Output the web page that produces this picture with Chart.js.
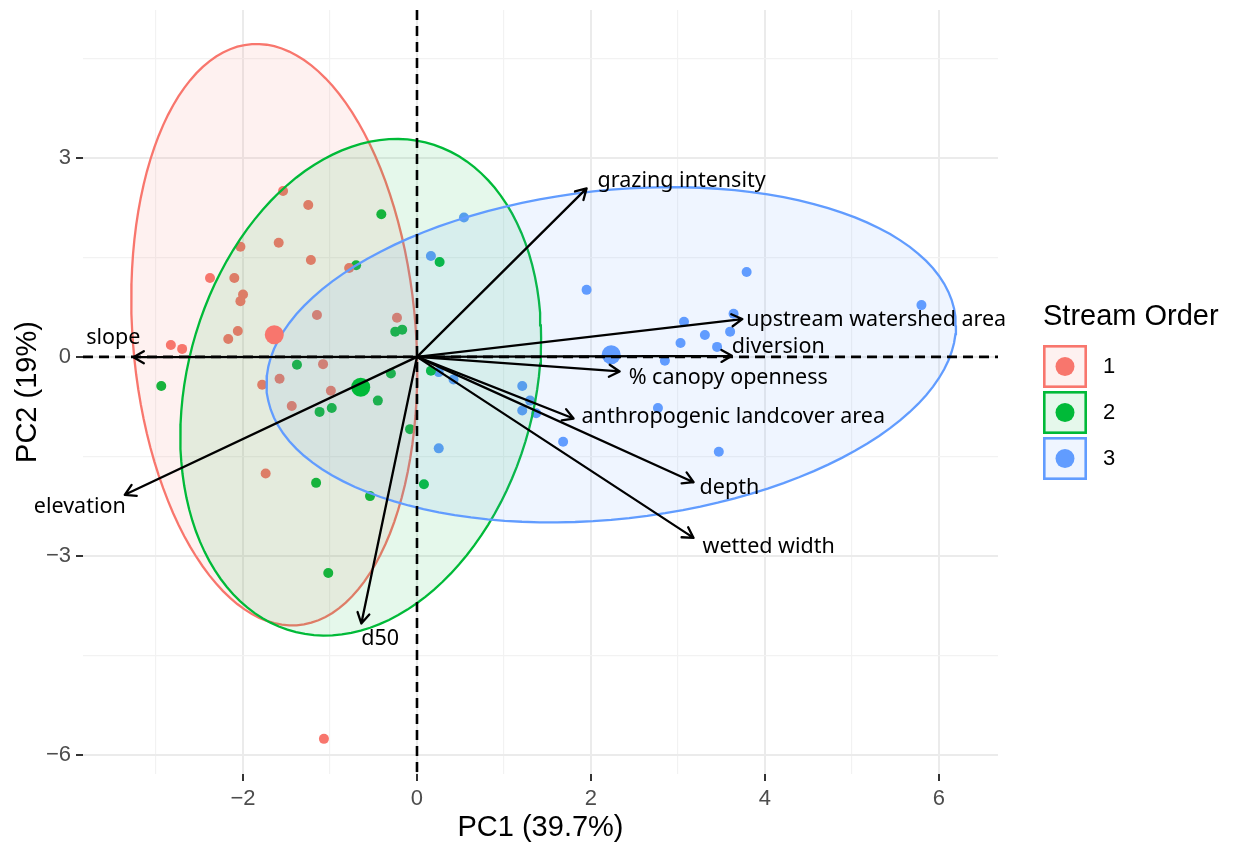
<!DOCTYPE html>
<html>
<head>
<meta charset="utf-8">
<script src="https://cdn.jsdelivr.net/npm/chart.js@4.4.1/dist/chart.umd.min.js"></script>
<style>
  html, body { margin: 0; padding: 0; background: #fff; }
</style>
</head>
<body>
<canvas id="pcaChart" width="1235" height="845"></canvas>
<script>
// stream order classes
const groups = ['1', '2', '3'];
const groupColors = ['#F8766D', '#00BA38', '#619CFF'];

// site scores [PC1, PC2] per stream order
const order1 = [
  [-1.54, 2.50], [-1.25, 2.29], [-1.59, 1.72], [-2.03, 1.66], [-1.22, 1.46],
  [-2.38, 1.19], [-2.10, 1.19], [-2.00, 0.94], [-2.03, 0.84], [-0.78, 1.34],
  [-1.15, 0.63], [-0.23, 0.59], [-2.06, 0.39], [-2.17, 0.27], [-2.83, 0.18],
  [-2.70, 0.12], [-1.08, -0.11], [-1.58, -0.33], [-1.78, -0.42], [-0.99, -0.51],
  [-1.44, -0.74], [-1.74, -1.76], [-1.07, -5.76]
];
const order2 = [
  [-0.41, 2.15], [-0.70, 1.38], [0.26, 1.43], [-0.25, 0.38], [-0.17, 0.41],
  [-1.38, -0.12], [0.16, -0.21], [-0.30, -0.25], [-2.94, -0.44], [-0.45, -0.66],
  [-1.12, -0.83], [-0.98, -0.77], [-0.08, -1.09], [-1.16, -1.90], [-0.54, -2.10],
  [0.08, -1.92], [-1.02, -3.26]
];
const order3 = [
  [0.54, 2.10], [0.16, 1.52], [1.95, 1.01], [3.79, 1.28], [5.80, 0.78],
  [3.07, 0.53], [3.64, 0.65], [3.31, 0.33], [3.60, 0.38], [3.03, 0.21],
  [3.45, 0.15], [2.85, -0.06], [0.25, -0.23], [0.42, -0.34], [1.21, -0.44],
  [1.30, -0.66], [1.21, -0.81], [1.37, -0.85], [2.77, -0.77], [1.68, -1.28],
  [0.25, -1.38], [3.47, -1.43]
];
const siteScores = [order1, order2, order3];

// variable arrows
const varNames = ['grazing intensity', 'upstream watershed area', 'diversion',
  '% canopy openness', 'anthropogenic landcover area', 'depth', 'wetted width',
  'slope', 'elevation', 'd50'];
const varPC1 = [1.95, 3.74, 3.62, 2.33, 1.80, 3.18, 3.18, -3.26, -3.36, -0.64];
const varPC2 = [2.54, 0.57, 0.015, -0.22, -0.93, -1.89, -2.73, -0.005, -2.08, -4.02];

const xTitle = 'PC1 (39.7%)';
const yTitle = 'PC2 (19%)';
const legendTitle = 'Stream Order';

// label placement relative to arrow tip (px): dx, dy, align
const labelPos = [
  [11, -8, 'left'], [4, 1, 'left'], [0, -9, 'left'], [9, 6, 'left'], [8, -2, 'left'],
  [6, 6, 'left'], [9, 9, 'left'], [7, -19, 'right'], [1, 12, 'right'], [0, 15, 'left']
];

function hexA(hex, a) {
  const n = parseInt(hex.slice(1), 16);
  return 'rgba(' + (n >> 16) + ',' + ((n >> 8) & 255) + ',' + (n & 255) + ',' + a + ')';
}

function meanOf(pts) {
  let sx = 0, sy = 0;
  pts.forEach(p => { sx += p[0]; sy += p[1]; });
  return [sx / pts.length, sy / pts.length];
}

// normal-theory 95% ellipse, like stat_ellipse(type = "norm")
function ellipseOf(pts, level) {
  const n = pts.length;
  const m = meanOf(pts);
  let sxx = 0, sxy = 0, syy = 0;
  pts.forEach(p => {
    const dx = p[0] - m[0], dy = p[1] - m[1];
    sxx += dx * dx; sxy += dx * dy; syy += dy * dy;
  });
  sxx /= n - 1; sxy /= n - 1; syy /= n - 1;
  const r11 = Math.sqrt(sxx), r12 = sxy / r11, r22 = Math.sqrt(syy - r12 * r12);
  const d = n - 1;
  const qf = (d / 2) * (Math.pow(1 - level, -2 / d) - 1);
  const rad = Math.sqrt(2 * qf);
  const out = [];
  for (let i = 0; i <= 120; i++) {
    const a = 2 * Math.PI * i / 120;
    const c = Math.cos(a), s = Math.sin(a);
    out.push({ x: m[0] + rad * c * r11, y: m[1] + rad * (c * r12 + s * r22) });
  }
  return out;
}

const datasets = [];
siteScores.forEach((pts, g) => {
  datasets.push({
    type: 'scatter',
    label: 'sites ' + groups[g],
    data: pts.map(p => ({ x: p[0], y: p[1] })),
    backgroundColor: groupColors[g],
    borderWidth: 0,
    pointRadius: 5,
    order: 40
  });
});
siteScores.forEach((pts, g) => {
  datasets.push({
    type: 'line',
    label: 'ellipse ' + groups[g],
    data: ellipseOf(pts, 0.95),
    borderColor: groupColors[g],
    backgroundColor: hexA(groupColors[g], 0.1),
    borderWidth: 2.3,
    pointRadius: 0,
    tension: 0,
    fill: 'shape',
    order: 30 - g
  });
});
siteScores.forEach((pts, g) => {
  const m = meanOf(pts);
  datasets.push({
    type: 'scatter',
    label: 'centre ' + groups[g],
    data: [{ x: m[0], y: m[1] }],
    backgroundColor: groupColors[g],
    borderWidth: 0,
    pointRadius: 9.5,
    order: 10
  });
});

const isMajorX = v => Math.abs(v / 2 - Math.round(v / 2)) < 1e-6;
const isMajorY = v => Math.abs(v / 3 - Math.round(v / 3)) < 1e-6;
const fmt = v => (v < 0 ? '\u2212' + Math.abs(v) : String(v));

const biplotExtras = {
  id: 'biplotExtras',
  beforeDraw(chart) {
    const c = chart.ctx;
    c.save();
    c.fillStyle = '#ffffff';
    c.fillRect(0, 0, chart.width, chart.height);
    c.restore();
  },
  afterDatasetsDraw(chart) {
    const c = chart.ctx;
    const xs = chart.scales.x, ys = chart.scales.y;
    const area = chart.chartArea;
    const x0 = xs.getPixelForValue(0), y0 = ys.getPixelForValue(0);
    c.save();
    // reference lines
    c.strokeStyle = '#000';
    c.lineWidth = 2.6;
    c.setLineDash([10, 6]);
    c.beginPath();
    c.moveTo(area.left, y0); c.lineTo(area.right, y0);
    c.moveTo(x0, area.top); c.lineTo(x0, area.bottom);
    c.stroke();
    c.setLineDash([]);
    // arrows
    c.lineWidth = 2.3;
    c.lineCap = 'round';
    c.lineJoin = 'round';
    varNames.forEach((name, i) => {
      const x1 = xs.getPixelForValue(varPC1[i]);
      const y1 = ys.getPixelForValue(varPC2[i]);
      const ang = Math.atan2(y1 - y0, x1 - x0);
      const head = 12, spread = Math.PI / 6;
      c.beginPath();
      c.moveTo(x0, y0); c.lineTo(x1, y1);
      c.moveTo(x1 - head * Math.cos(ang - spread), y1 - head * Math.sin(ang - spread));
      c.lineTo(x1, y1);
      c.lineTo(x1 - head * Math.cos(ang + spread), y1 - head * Math.sin(ang + spread));
      c.stroke();
    });
    // labels
    c.fillStyle = '#000';
    c.font = '21.5px "Noto Sans"';
    c.textBaseline = 'middle';
    varNames.forEach((name, i) => {
      const x1 = xs.getPixelForValue(varPC1[i]);
      const y1 = ys.getPixelForValue(varPC2[i]);
      const lp = labelPos[i];
      c.textAlign = lp[2];
      c.fillText(name, x1 + lp[0], y1 + lp[1]);
    });
    c.restore();
  },
  afterDraw(chart) {
    const c = chart.ctx;
    const area = chart.chartArea;
    c.save();
    c.fillStyle = '#000';
    c.font = '29px "Liberation Sans"';
    c.textAlign = 'center';
    c.textBaseline = 'middle';
    c.fillText(xTitle, (area.left + area.right) / 2, 828);
    c.save();
    c.translate(28, (area.top + area.bottom) / 2);
    c.rotate(-Math.PI / 2);
    c.fillText(yTitle, 0, 0);
    c.restore();
    // legend
    c.textAlign = 'left';
    c.fillText(legendTitle, 1043, 317);
    c.font = '22px "Liberation Sans"';
    groups.forEach((g, i) => {
      const top = 345 + i * 46;
      c.fillStyle = '#fff';
      c.fillRect(1043, top, 44, 43);
      c.fillStyle = hexA(groupColors[i], 0.1);
      c.fillRect(1043, top, 44, 43);
      c.strokeStyle = groupColors[i];
      c.lineWidth = 2.6;
      c.strokeRect(1044.3, top + 1.3, 41.4, 40.4);
      c.fillStyle = groupColors[i];
      c.beginPath();
      c.arc(1065, top + 21.5, 9.5, 0, Math.PI * 2);
      c.fill();
      c.fillStyle = '#000';
      c.fillText(g, 1103, top + 22);
    });
    c.restore();
  }
};

new Chart(document.getElementById('pcaChart'), {
  type: 'scatter',
  data: { datasets },
  options: {
    responsive: false,
    animation: false,
    devicePixelRatio: 1,
    events: [],
    layout: { padding: { left: 0, top: 10, right: 237, bottom: 0 } },
    plugins: {
      legend: { display: false },
      tooltip: { enabled: false },
      filler: { propagate: false }
    },
    scales: {
      x: {
        type: 'linear',
        min: -3.84,
        max: 6.68,
        afterFit: s => { s.height = 71; s.paddingLeft = 0; s.paddingRight = 0; },
        border: { display: false },
        grid: {
          color: ctx => (ctx.tick && isMajorX(ctx.tick.value) ? '#EBEBEB' : '#F2F2F2'),
          lineWidth: ctx => (ctx.tick && isMajorX(ctx.tick.value) ? 2 : 1.2),
          tickColor: ctx => (ctx.tick && isMajorX(ctx.tick.value) ? '#333333' : 'rgba(0,0,0,0)'),
          tickWidth: 2,
          tickLength: 7
        },
        ticks: {
          stepSize: 1,
          includeBounds: false,
          autoSkip: false,
          maxRotation: 0,
          padding: 5,
          color: '#4D4D4D',
          font: { family: 'Liberation Sans', size: 22 },
          callback: v => (isMajorX(v) ? fmt(v) : '')
        }
      },
      y: {
        type: 'linear',
        min: -6.29,
        max: 5.23,
        afterFit: s => { s.width = 83; s.paddingTop = 0; s.paddingBottom = 0; },
        border: { display: false },
        grid: {
          color: ctx => (ctx.tick && isMajorY(ctx.tick.value) ? '#EBEBEB' : '#F2F2F2'),
          lineWidth: ctx => (ctx.tick && isMajorY(ctx.tick.value) ? 2 : 1.2),
          tickColor: ctx => (ctx.tick && isMajorY(ctx.tick.value) ? '#333333' : 'rgba(0,0,0,0)'),
          tickWidth: 2,
          tickLength: 7
        },
        ticks: {
          stepSize: 1.5,
          includeBounds: false,
          autoSkip: false,
          padding: 5,
          color: '#4D4D4D',
          font: { family: 'Liberation Sans', size: 22 },
          callback: v => (isMajorY(v) ? fmt(v) : '')
        }
      }
    }
  },
  plugins: [biplotExtras]
});
</script>
</body>
</html>
